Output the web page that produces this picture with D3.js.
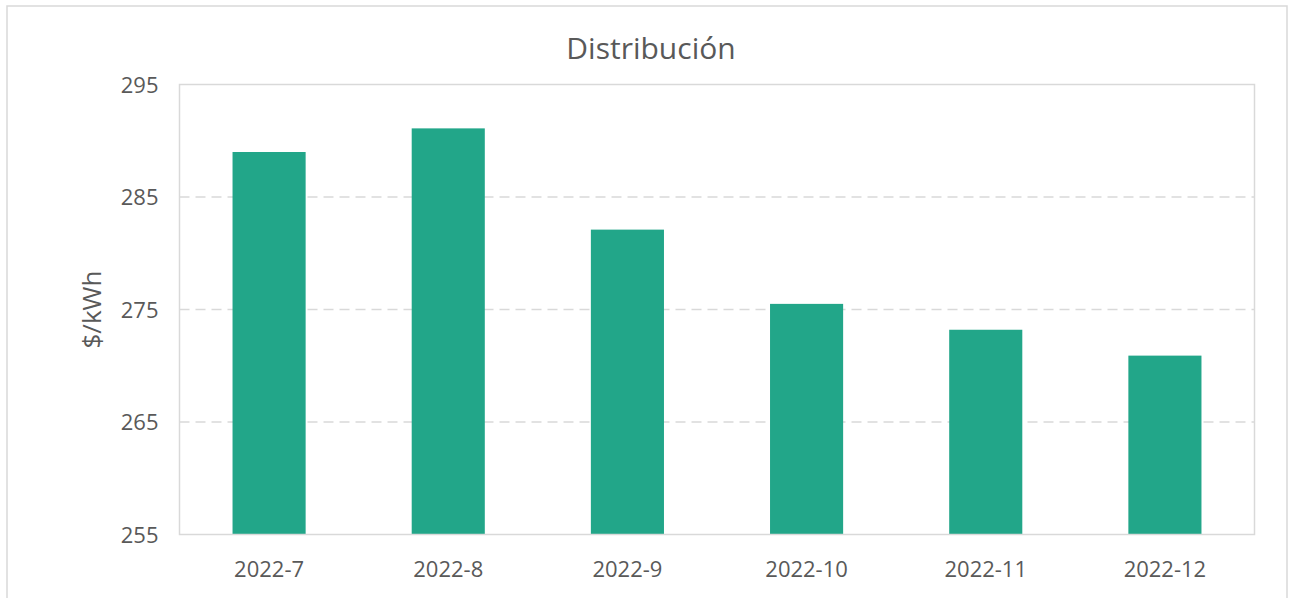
<!DOCTYPE html>
<html>
<head>
<meta charset="utf-8">
<script src="https://cdn.jsdelivr.net/npm/d3@7"></script>
<style>
  body { margin: 0; background: #fff; }
  svg { display: block; }
  svg text { font-family: 'Open Sans', 'Noto Sans', sans-serif; }
</style>
</head>
<body>
<div id="chart"></div>
<script>
const months = ['2022-7', '2022-8', '2022-9', '2022-10', '2022-11', '2022-12']
const distribucion = [289.0, 291.1, 282.1, 275.5, 273.2, 270.9]
const yTicks = [255, 265, 275, 285, 295]

const W = 1294, H = 598
const m = { left: 179.5, right: 1254.5, top: 84.5, bottom: 534.5 }
const textColor = '#595959'
const lineColor = '#d9d9d9'
const font = "'Open Sans', 'Noto Sans', sans-serif"

const svg = d3.select('#chart').append('svg').attr('width', W).attr('height', H)

// chart border
svg.append('rect')
  .attr('x', 7).attr('y', 6).attr('width', 1280).attr('height', 620)
  .attr('fill', '#fff').attr('stroke', lineColor).attr('stroke-width', 1.5)

const x = d3.scaleBand().domain(months).range([m.left, m.right])
  .paddingInner(0.592).paddingOuter(0.296)
const y = d3.scaleLinear().domain([255, 295]).range([m.bottom, m.top])

// gridlines
svg.append('g')
  .selectAll('line')
  .data(yTicks.slice(1, -1))
  .join('line')
  .attr('x1', m.left).attr('x2', m.right)
  .attr('y1', d => y(d)).attr('y2', d => y(d))
  .attr('stroke', lineColor).attr('stroke-width', 1.5)
  .attr('stroke-dasharray', '10,6')

// bars
svg.append('g')
  .selectAll('rect')
  .data(distribucion)
  .join('rect')
  .attr('x', (d, i) => x(months[i]))
  .attr('width', x.bandwidth())
  .attr('y', d => y(d))
  .attr('height', d => y(255) - y(d))
  .attr('fill', '#22a689')

// plot area border
svg.append('rect')
  .attr('x', m.left).attr('y', m.top)
  .attr('width', m.right - m.left).attr('height', m.bottom - m.top)
  .attr('fill', 'none').attr('stroke', lineColor).attr('stroke-width', 1.5)

// y axis
const yAxis = svg.append('g')
  .attr('transform', `translate(${m.left},0)`)
  .call(d3.axisLeft(y).tickValues(yTicks).tickSize(0).tickPadding(21))
yAxis.select('.domain').remove()
yAxis.selectAll('text')
  .attr('fill', textColor)
  .attr('dy', '0.36em')
  .style('font-family', font)
  .style('font-size', '22px')

// x axis
const xAxis = svg.append('g')
  .attr('transform', `translate(0,${m.bottom})`)
  .call(d3.axisBottom(x).tickSize(0).tickPadding(0))
xAxis.select('.domain').remove()
xAxis.selectAll('text')
  .attr('fill', textColor)
  .attr('y', 42)
  .attr('dy', 0)
  .style('font-family', font)
  .style('font-size', '22px')

// title
svg.append('text')
  .attr('x', 651).attr('y', 59)
  .attr('text-anchor', 'middle')
  .attr('fill', textColor)
  .style('font-size', '30px')
  .text('Distribución')

// y axis title
svg.append('text')
  .attr('transform', `translate(101,${(m.top + m.bottom) / 2}) rotate(-90)`)
  .attr('text-anchor', 'middle')
  .attr('fill', textColor)
  .style('font-size', '26px')
  .text('$/kWh')
</script>
</body>
</html>
